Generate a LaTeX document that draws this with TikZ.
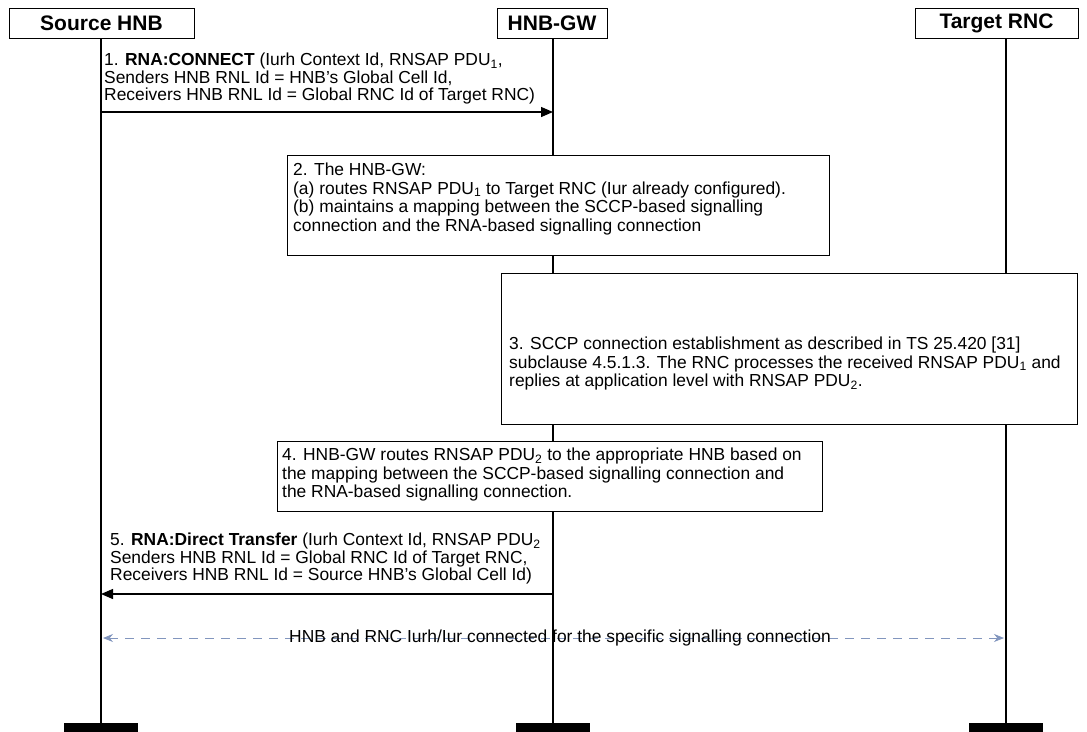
\documentclass[tikz,border=0pt]{standalone}
\usepackage{fontspec}
\setmainfont{Liberation Sans}
\usetikzlibrary{arrows.meta,calc}
\definecolor{dashblue}{RGB}{130,150,190}
\begin{document}
\begin{tikzpicture}[x=1pt,y=-1pt,
 hdr/.style={draw,fill=white,line width=0.8pt,inner sep=0pt,font=\fontsize{21}{24}\selectfont\bfseries,minimum height=30pt},
 stepbox/.style={draw,fill=white,line width=0.8pt,inner sep=0pt,anchor=north west},
 txt/.style={inner sep=0pt,anchor=north west,align=left,font=\fontsize{17.4}{18.5}\selectfont},
 msgtxt/.style={txt,font=\fontsize{17.4}{17.5}\selectfont},
 life/.style={line width=1.2pt},
 bar/.style={fill=black,inner sep=0pt,minimum width=74pt,minimum height=9pt},
 msg/.style={line width=1.3pt,-{Triangle[length=12pt,width=10pt]}},
 conn/.style={dashblue,line width=0.9pt,dash pattern=on 9pt off 7pt,{Stealth[length=10pt,width=8pt]}-{Stealth[length=10pt,width=8pt]}}
]
\useasboundingbox (0,0) rectangle (1087,731);
% headers
\node[hdr,minimum width=185pt] (h1) at (101.5,23) {Source HNB};
\node[hdr,minimum width=110pt] (h2) at (552,23) {HNB-GW};
\node[hdr,minimum width=163pt] (h3) at (996.5,23) {Target RNC};
% end bars
\node[bar] (e1) at (101,727.5) {};
\node[bar] (e2) at (553,727.5) {};
\node[bar] (e3) at (1006,727.5) {};
% lifelines
\draw[life] (e1.north |- h1.south) -- (e1.north);
\draw[life] (e2.north |- h2.south) -- (e2.north);
\draw[life] (e3.north |- h3.south) -- (e3.north);
% message 1
\node[msgtxt] (t1) at (104,53) {1. \textbf{RNA:CONNECT} (Iurh Context Id, RNSAP PDU\textsubscript{1},\\Senders HNB RNL Id = HNB’s Global Cell Id,\\Receivers HNB RNL Id = Global RNC Id of Target RNC)};
\coordinate (m1a) at (101,112);
\coordinate (m1b) at (553,112);
\draw[msg] (m1a) -- (m1b);
% box 2
\node[stepbox,minimum width=542pt,minimum height=100pt] (b2) at (287,155) {};
\node[txt] (t2) at (293,163) {2. The HNB-GW:\\(a) routes RNSAP PDU\textsubscript{1} to Target RNC (Iur already configured).\\(b) maintains a mapping between the SCCP-based signalling\\connection and the RNA-based signalling connection};
% box 3
\node[stepbox,minimum width=576pt,minimum height=151pt] (b3) at (501,273) {};
\node[txt] (t3) at (509,337) {3. SCCP connection establishment as described in TS 25.420 [31]\\subclause 4.5.1.3. The RNC processes the received RNSAP PDU\textsubscript{1} and\\replies at application level with RNSAP PDU\textsubscript{2}.};
% box 4
\node[stepbox,minimum width=545pt,minimum height=70pt] (b4) at (277,441) {};
\node[txt] (t4) at (282,448) {4. HNB-GW routes RNSAP PDU\textsubscript{2} to the appropriate HNB based on\\the mapping between the SCCP-based signalling connection and\\the RNA-based signalling connection.};
% message 5
\node[msgtxt] (t5) at (110,533) {5. \textbf{RNA:Direct Transfer} (Iurh Context Id, RNSAP PDU\textsubscript{2}\\Senders HNB RNL Id = Global RNC Id of Target RNC,\\Receivers HNB RNL Id = Source HNB’s Global Cell Id)};
\coordinate (m5a) at (553,594);
\coordinate (m5b) at (101,594);
\draw[msg] (m5a) -- (m5b);
% dashed connection
\coordinate (c1) at (103,638);
\coordinate (c2) at (1004,638);
\draw[conn] (c1) -- (c2);
\node[inner sep=0pt,font=\fontsize{17.4}{18.5}\selectfont] (t6) at (560,638) {HNB and RNC Iurh/Iur connected for the specific signalling connection};
\end{tikzpicture}
\end{document}
